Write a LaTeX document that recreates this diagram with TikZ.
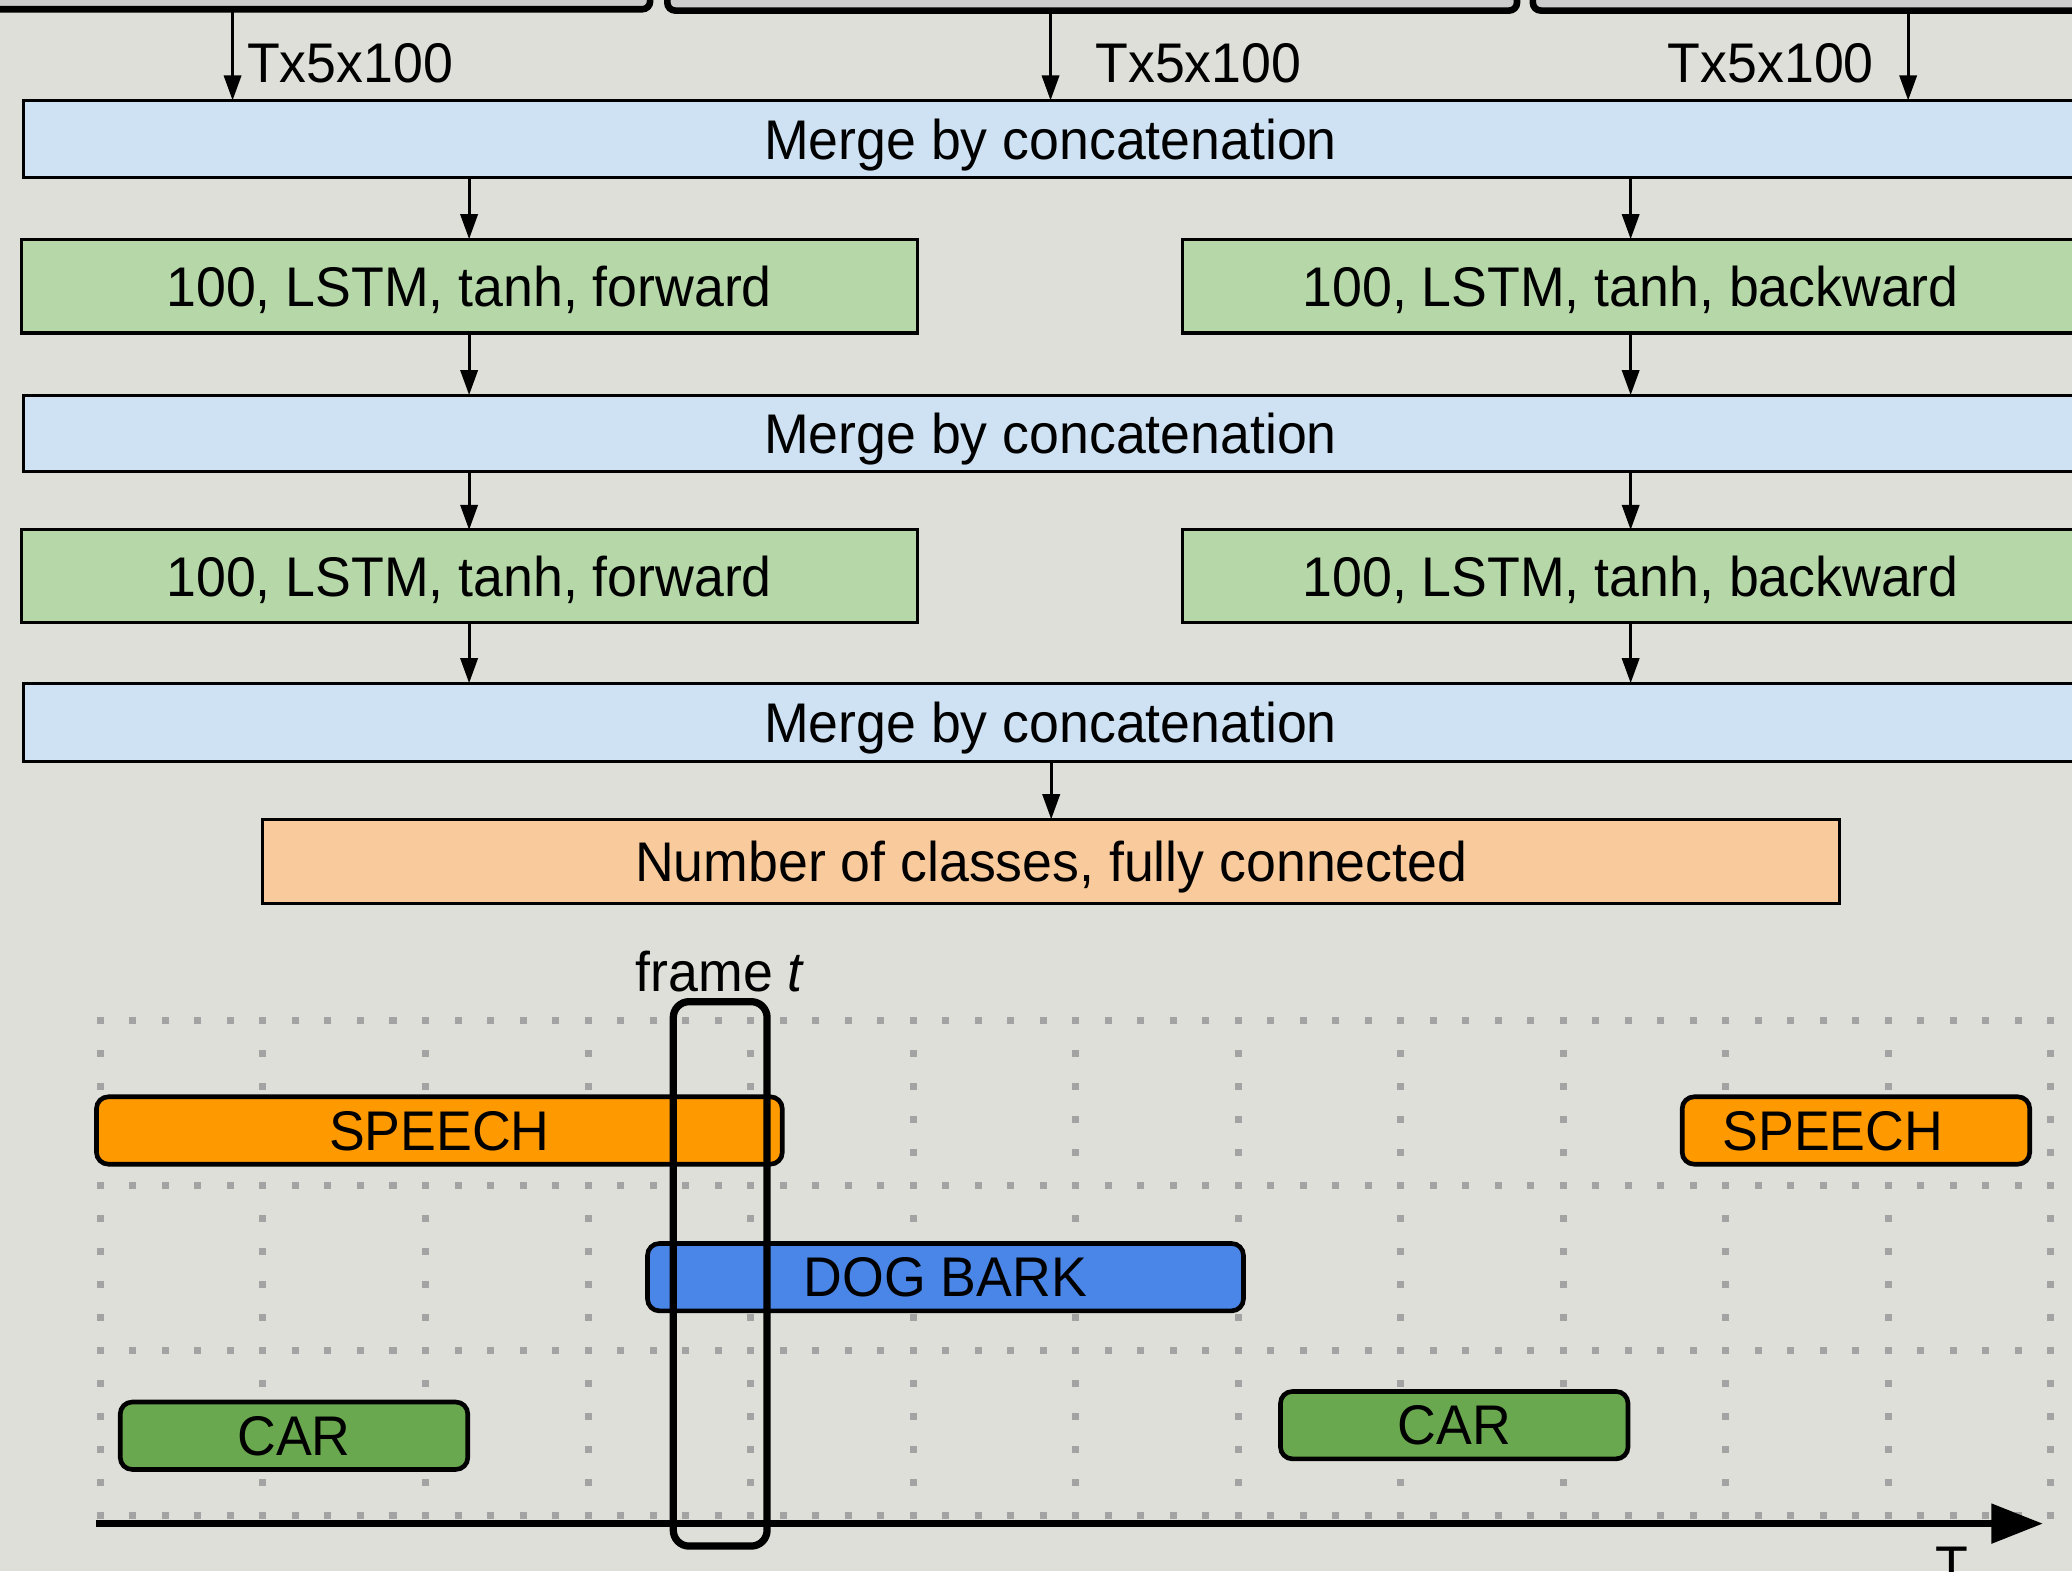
\documentclass[tikz,border=0pt]{standalone}
\usepackage{fontspec}
\setmainfont[FakeStretch=0.96]{Liberation Sans}
\usetikzlibrary{arrows.meta}
\definecolor{bg}{RGB}{223,223,217}
\definecolor{topgray}{RGB}{204,204,204}
\definecolor{mergeblue}{RGB}{207,226,243}
\definecolor{lstmgreen}{RGB}{182,215,168}
\definecolor{fcorange}{RGB}{249,203,156}
\definecolor{speechorange}{RGB}{255,153,0}
\definecolor{dogblue}{RGB}{74,134,232}
\definecolor{cargreen}{RGB}{106,168,79}
\definecolor{dotgray}{RGB}{163,163,163}
\begin{document}
\begin{tikzpicture}[x=1pt,y=-1pt,
  every node/.style={font=\fontsize{42.3pt}{50pt}\selectfont, inner sep=0pt, outer sep=0pt, text depth=0pt},
  topbox/.style={draw=black, line width=5pt, fill=topgray, rounded corners=6pt},
  mergebox/.style={draw=black, line width=2.3pt, fill=mergeblue, minimum width=1554, minimum height=58},
  lstmbox/.style={draw=black, line width=2.3pt, fill=lstmgreen, minimum width=678, minimum height=71},
  fcbox/.style={draw=black, line width=2.3pt, fill=fcorange, minimum width=1193, minimum height=64},
  evbox/.style={draw=black, line width=3.5pt, rounded corners=9pt, minimum height=51},
  arr/.style={line width=2.4pt, -{Triangle[length=19pt, width=13pt]}},
  dot/.style={fill=dotgray}]
\clip (0,0) rectangle (1568,1189);
\fill[bg] (0,0) rectangle (1568,1189);

% top boxes (partly visible)
\node[topbox, minimum width=522, minimum height=47] (topA) at (231,-16.5) {};
\node[topbox, minimum width=643, minimum height=48] (topB) at (826.5,-16) {};
\node[topbox, minimum width=460, minimum height=48] (topC) at (1390,-16) {};

% layers
\node[mergebox] (merge1) at (795,105) {Merge by concatenation};
\node[lstmbox] (fwd1) at (355,216.5) {100, LSTM, tanh, forward};
\node[lstmbox] (bwd1) at (1234,216.5) {100, LSTM, tanh, backward};
\node[mergebox] (merge2) at (795,328) {Merge by concatenation};
\node[lstmbox, minimum height=70] (fwd2) at (355,436) {100, LSTM, tanh, forward};
\node[lstmbox, minimum height=70] (bwd2) at (1234,436) {100, LSTM, tanh, backward};
\node[mergebox, minimum height=59] (merge3) at (795,546.5) {Merge by concatenation};
\node[fcbox] (fc) at (795.5,652) {Number of classes, fully connected};

% input arrows
\coordinate (ta) at (176,0);
\coordinate (tb) at (795,0);
\coordinate (tc) at (1444,0);
\draw[arr] (topA.south -| ta) -- (merge1.north -| ta);
\draw[arr] (topB.south -| tb) -- (merge1.north -| tb);
\draw[arr] (topC.south -| tc) -- (merge1.north -| tc);
\node[anchor=west] (la) at (187,48) {Tx5x100};
\node[anchor=west] (lb) at (829,48) {Tx5x100};
\node[anchor=east] (lc) at (1418,48) {Tx5x100};

% layer arrows
\draw[arr] (merge1.south -| fwd1.north) -- (fwd1.north);
\draw[arr] (merge1.south -| bwd1.north) -- (bwd1.north);
\draw[arr] (fwd1.south) -- (merge2.north -| fwd1.south);
\draw[arr] (bwd1.south) -- (merge2.north -| bwd1.south);
\draw[arr] (merge2.south -| fwd2.north) -- (fwd2.north);
\draw[arr] (merge2.south -| bwd2.north) -- (bwd2.north);
\draw[arr] (fwd2.south) -- (merge3.north -| fwd2.south);
\draw[arr] (bwd2.south) -- (merge3.north -| bwd2.south);
\draw[arr] (merge3.south -| fc.north) -- (fc.north);

% grid of dots
\foreach \j in {0,...,12}{
  \foreach \k in {0,...,15}{
    \fill[dot] ({76+123*\j-2.65},{772+25*\k-2.65}) rectangle ++(5.3,5.3);
  }
}
\foreach \i in {0,...,3}{
  \foreach \m in {0,...,60}{
    \fill[dot] ({76+24.6*\m-2.65},{772+125*\i-2.65}) rectangle ++(5.3,5.3);
  }
}

% events
\node[evbox, fill=speechorange, minimum width=519] (speech1) at (332.5,855.5) {SPEECH};
\node[evbox, fill=speechorange, minimum width=263] (speech2) at (1404.5,855.5) {};
\node (speech2t) at (1387,855.5) {SPEECH};
\node[evbox, fill=dogblue, minimum width=451] (dog) at (715.5,966.5) {DOG BARK};
\node[evbox, fill=cargreen, minimum width=263] (car1) at (222.5,1086.5) {CAR};
\node[evbox, fill=cargreen, minimum width=263] (car2) at (1100.5,1078.5) {CAR};

% time axis
\coordinate (ax0) at (73,1153);
\coordinate (ax1) at (1546,1153);
\draw[line width=5.5pt, -{Triangle[length=39pt, width=29pt]}] (ax0) -- (ax1);
\node[anchor=north] (tlabel) at (1477,1171) {T};

% frame t
\node[draw=black, line width=5.5pt, rounded corners=12pt, minimum width=71, minimum height=412] (frame) at (545,964) {};
\node (framelabel) at (545,735) {frame \textit{t}};
\end{tikzpicture}
\end{document}
